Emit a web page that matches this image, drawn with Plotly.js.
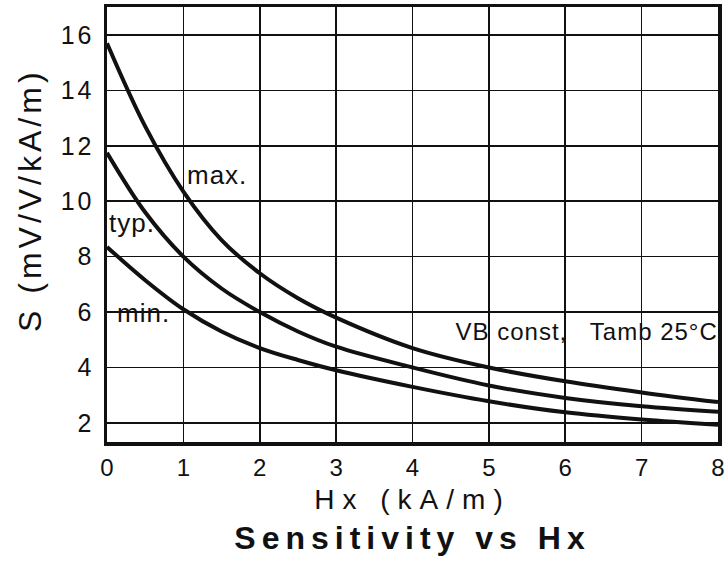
<!DOCTYPE html>
<html>
<head>
<meta charset="utf-8">
<script src="https://cdn.plot.ly/plotly-3.0.1.min.js"></script>
<style>
  html, body { margin: 0; padding: 0; background: #fff; }
  #chart { width: 725px; height: 571px; }
</style>
</head>
<body>
<div id="chart"></div>
<script>
// ---- data ----
var hx = [0, 0.5, 1, 1.5, 2, 2.5, 3, 4, 5, 6, 7, 8];
var sMax = [15.7, 12.7, 10.35, 8.6, 7.4, 6.5, 5.8, 4.7, 4.0, 3.5, 3.1, 2.75];
var sTyp = [11.75, 9.6, 8.0, 6.85, 6.0, 5.3, 4.75, 4.0, 3.35, 2.9, 2.6, 2.4];
var sMin = [8.35, 7.15, 6.1, 5.3, 4.7, 4.27, 3.9, 3.3, 2.78, 2.38, 2.12, 1.93];
var seriesNames = ['max.', 'typ.', 'min.'];
var xTicks = [0, 1, 2, 3, 4, 5, 6, 7, 8];
var yTicks = [2, 4, 6, 8, 10, 12, 14, 16];
var titleText = 'Sensitivity vs Hx';
var xTitle = 'Hx (kA/m)';
var yTitle = 'S (mV/V/kA/m)';
var noteText = 'VB const,   Tamb 25°C';

var FONT = 'Arial, "Liberation Sans", Helvetica, sans-serif';
var line = {color: '#111', width: 4, shape: 'spline', smoothing: 1};

var traces = [sMax, sTyp, sMin].map(function (ys, i) {
  return {x: hx, y: ys, type: 'scatter', mode: 'lines', name: seriesNames[i],
          line: line, hoverinfo: 'skip'};
});

var layout = {
  width: 725, height: 571,
  margin: {l: 107, r: 7, t: 7, b: 129},
  paper_bgcolor: '#fff', plot_bgcolor: '#fff',
  showlegend: false,
  font: {family: FONT, color: '#111'},
  title: {
    text: '<b>' + titleText + '</b>',
    font: {family: FONT, size: 32, color: '#111'},
    xref: 'paper', x: 0.5, xanchor: 'center',
    yref: 'container', y: 1 - 538 / 571, yanchor: 'middle'
  },
  xaxis: {
    range: [0, 8], tickvals: xTicks, ticks: '',
    tickfont: {family: FONT, size: 24, color: '#111'},
    ticklabelstandoff: 2,
    showgrid: true, gridcolor: '#111', gridwidth: 1.6,
    zeroline: false, showline: true, linecolor: '#111', linewidth: 3.5, mirror: true,
    title: {text: xTitle, font: {family: FONT, size: 28, color: '#111'}, standoff: 10},
    automargin: false
  },
  yaxis: {
    range: [1.31, 17.01], tickvals: yTicks, ticks: '',
    tickfont: {family: FONT, size: 25, color: '#111'},
    ticklabelstandoff: 4,
    showgrid: true, gridcolor: '#111', gridwidth: 1.6,
    zeroline: false, showline: true, linecolor: '#111', linewidth: 3.5, mirror: true,
    automargin: false
  },
  annotations: [
    {text: seriesNames[0], x: 1.05, y: 10.95, xref: 'x', yref: 'y', xanchor: 'left', yanchor: 'middle',
     showarrow: false, font: {family: FONT, size: 26, color: '#111'}},
    {text: seriesNames[1], x: 0.02, y: 9.2, xref: 'x', yref: 'y', xanchor: 'left', yanchor: 'middle',
     showarrow: false, font: {family: FONT, size: 26, color: '#111'}},
    {text: seriesNames[2], x: 0.13, y: 5.95, xref: 'x', yref: 'y', xanchor: 'left', yanchor: 'middle',
     showarrow: false, font: {family: FONT, size: 26, color: '#111'}},
    {text: noteText, x: 7.88, y: 5.3, xref: 'x', yref: 'y', xanchor: 'right', yanchor: 'middle',
     showarrow: false, font: {family: FONT, size: 24, color: '#111'}},
    {text: yTitle, x: (30 - 107) / 611, y: (442 - 200) / 435, xref: 'paper', yref: 'paper',
     xanchor: 'center', yanchor: 'middle', textangle: -90,
     showarrow: false, font: {family: FONT, size: 32, color: '#111'}}
  ]
};

function spaceText() {
  var spacing = {};
  spacing[titleText] = '6px';
  spacing[xTitle] = '8px';
  spacing[yTitle] = '4px';
  spacing[noteText] = '1px';
  seriesNames.forEach(function (n) { spacing[n] = '1px'; });
  document.querySelectorAll('#chart .ytick text').forEach(function (t) { t.style.letterSpacing = '3px'; });
  document.querySelectorAll('#chart text').forEach(function (t) {
    var s = spacing[t.textContent];
    if (s) t.style.letterSpacing = s;
  });
}

Plotly.newPlot('chart', traces, layout, {staticPlot: true, displayModeBar: false}).then(spaceText);
</script>
</body>
</html>
